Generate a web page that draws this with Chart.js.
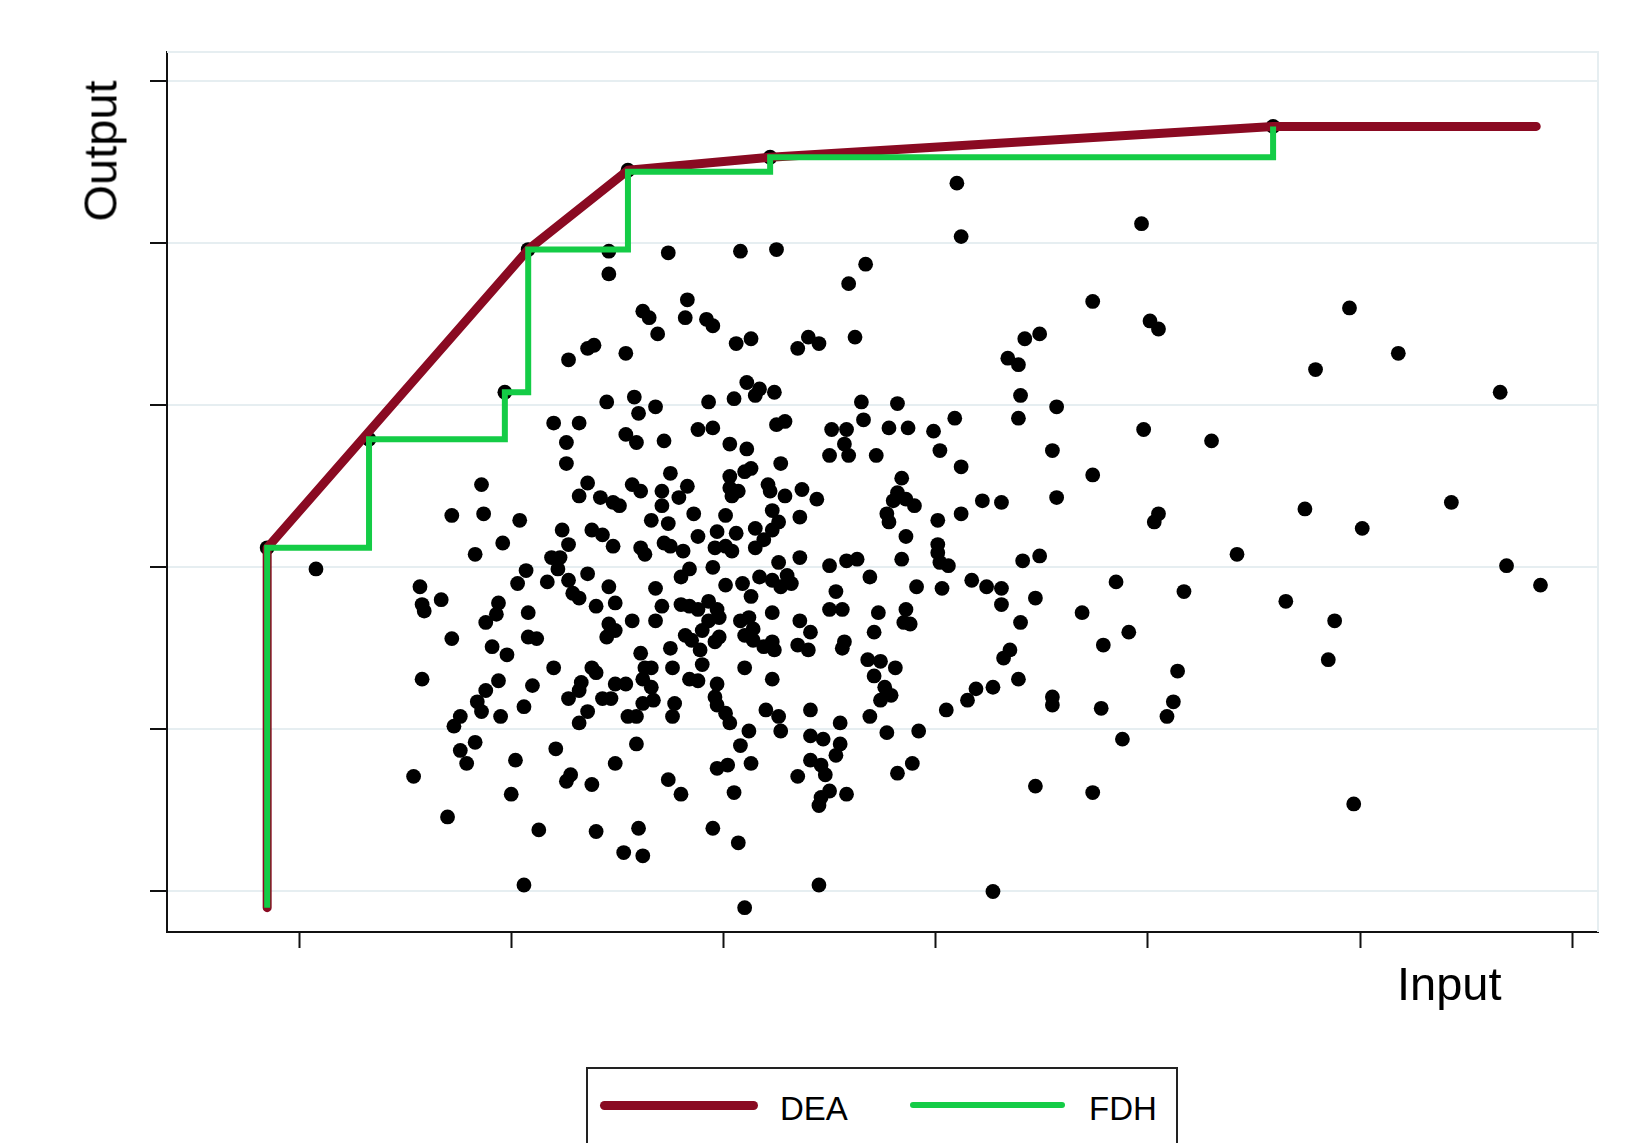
<!DOCTYPE html>
<html>
<head>
<meta charset="utf-8">
<script src="https://cdn.jsdelivr.net/npm/chart.js@4.4.1/dist/chart.umd.min.js"></script>
<style>
html,body{margin:0;padding:0;background:#fff;overflow:hidden;width:1629px;height:1143px;}
#wrap{position:relative;width:1629px;height:1143px;overflow:hidden;}
canvas{position:absolute;left:0;top:0;}
.lbl{position:absolute;font-family:"Liberation Sans",Arial,sans-serif;color:#000;line-height:1;white-space:nowrap;}
#ylab{left:100px;top:151px;font-size:47px;transform:translate(-50%,-50%) rotate(-90deg);}
#xlab{left:1397px;top:960px;font-size:47px;}
#legend{position:absolute;left:586px;top:1067px;width:592px;height:140px;border:2px solid #222;box-sizing:border-box;background:#fff;}
.sw{position:absolute;}
.lt{position:absolute;font-family:"Liberation Sans",Arial,sans-serif;font-size:33px;line-height:1;color:#000;white-space:nowrap;}
</style>
</head>
<body>
<div id="wrap">
  <canvas id="c" width="1629" height="1143"></canvas>
  <div class="lbl" id="ylab">Output</div>
  <div class="lbl" id="xlab">Input</div>
  <div id="legend"></div>
</div>
<script>
// ---- data (axis units: input ticks 0..60, output ticks 0..50) ----
const xTickValues = [0, 10, 20, 30, 40, 50, 60];
const yTickValues = [0, 10, 20, 30, 40, 50];
const seriesLabels = ['DEA', 'FDH'];

const firmInput = [
  31.0,31.2,39.7,14.6,14.6,17.4,20.8,22.5,26.7,25.9,18.3,18.2,16.2,16.5,16.9,19.2,19.5,13.6,13.9,12.7,
  15.4,20.6,21.3,23.5,24.0,24.5,26.2,34.2,34.9,37.4,40.1,40.5,49.5,51.8,33.4,33.9,9.7,14.5,15.8,16.8,
  16.0,19.3,20.5,21.1,21.7,21.5,22.4,26.5,26.6,28.2,34.0,33.9,30.9,
  47.9,56.6,35.7,39.8,43.0,35.5,37.4,35.7,40.5,40.3,47.4,54.3,50.1,34.9,44.2,56.9,58.5,34.7,38.5,41.7,
  46.5,36.9,39.1,37.9,48.8,48.5,41.4,35.5,35.5,37.8,41.2,40.9,38.8,34.7,37.4,49.7,
  12.0,13.2,12.6,12.6,8.6,7.2,8.7,10.4,9.6,8.3,13.6,13.2,12.4,13.8,12.7,11.9,12.3,12.2,10.7,10.3,
  13.6,11.7,12.7,12.9,13.2,5.7,5.8,5.9,6.7,9.4,9.3,8.8,10.8,14.0,7.2,9.1,9.8,10.8,11.2,12.0,
  5.8,9.4,8.8,8.4,8.6,7.6,7.3,9.5,10.6,11.0,12.7,13.6,13.3,13.2,13.8,14.0,0.8,
  13.2,8.3,7.6,7.9,10.2,5.4,12.1,12.8,12.6,13.8,10.0,7.0,11.3,14.0,15.3,16.2,16.0,10.6,14.9,15.9,
  17.4,18.0,19.5,19.7,20.3,22.7,21.2,20.8,21.3,20.2,20.5,20.7,21.0,23.5,24.1,24.7,24.1,24.6,24.8,25.0,
  24.6,24.5,24.5,
  25.0,25.6,27.3,28.6,28.8,28.5,33.1,34.0,27.1,25.7,25.6,26.8,27.4,28.1,27.1,27.6,27.9,27.4,26.9,25.5,
  25.5,25.3,25.8,27.7,29.2,28.9,28.2,30.5,31.5,31.9,32.7,33.2,33.5,33.9,32.7,
  25.1,25.8,25.7,25.0,25.9,27.8,28.7,27.2,29.9,30.2,31.2,28.4,28.2,28.0,28.6,29.0,27.7,27.8,28.6,28.4,
  30.1,31.2,32.2,33.1,30.1,30.1,30.2,30.6,29.1,30.3,31.7,32.4,33.1,34.1,25.0,25.8,26.3,26.9,25.3,
  15.4,15.9,17.2,18.8,19.5,20.3,21.1,22.5,22.9,17.5,15.7,16.1,17.1,18.3,17.9,17.1,20.3,20.3,20.7,20.4,
  20.1,21.3,21.0,22.7,22.1,22.2,22.9,23.7,24.4,14.2,14.8,15.1,16.6,17.4,18.6,22.3,22.6,23.6,14.3,14.8,
  16.1,16.3,17.2,17.5,18.1,18.8,19.7,20.6,19.6,20.1,20.4,21.5,22.3,21.9,21.5,23.6,19.5,22.6,23.0,23.2,
  21.7,22.3,22.7,18.0,18.4,16.8,14.6,14.9,18.0,18.4,18.8,19.3,19.7,20.1,20.9,21.3,22.3,23.6,24.1,23.5,
  24.0,14.6,14.9,14.5,15.7,18.2,19.0,19.3,19.8,17.5,18.5,18.9,19.6,19.8,20.8,21.2,21.4,21.0,21.4,21.9,
  22.3,22.4,21.0,22.3,19.0,17.6,18.4,18.8,19.7,19.6,19.7,20.1,16.1,16.3,16.6,16.2,16.6,16.2,16.7,14.9,
  15.4,14.3,14.7,17.7,15.5,15.9,17.6,22.0,22.6,24.1,17.1,16.8,
  -1.5,3.3,10.8,15.5,22.2,45.9
];
const firmOutput = [
  43.7,40.4,41.2,39.5,38.1,39.4,39.5,39.6,38.7,37.5,36.5,35.4,35.8,35.4,34.4,35.3,34.9,33.5,33.7,32.8,
  33.2,33.8,34.1,33.5,34.2,33.8,34.2,34.1,34.4,36.4,35.2,34.7,36.0,33.2,32.9,32.5,30.8,30.2,30.5,29.9,
  29.5,30.2,30.4,31.4,31.0,30.6,30.8,30.2,29.1,30.1,30.6,29.2,29.2,
  32.2,30.8,29.9,28.5,27.8,27.2,25.7,24.3,23.3,22.8,23.6,24.0,22.4,20.7,20.8,20.1,18.9,18.1,19.1,18.5,
  17.9,17.2,16.0,15.2,16.7,14.3,13.6,12.0,11.5,11.3,11.7,10.8,9.4,6.5,6.1,5.4,
  28.9,28.9,27.7,26.4,25.1,23.2,23.3,22.9,21.5,20.8,25.2,24.4,22.3,22.3,21.4,20.6,20.6,19.9,19.8,19.0,
  19.6,19.1,19.2,18.4,18.1,18.8,17.7,17.3,18.0,17.8,17.1,16.6,17.2,17.6,15.6,15.1,14.6,15.7,15.6,13.8,
  13.1,13.0,12.4,11.7,11.1,10.8,10.2,10.8,11.4,12.7,11.9,11.1,12.9,12.4,13.8,13.5,19.9,
  10.4,9.2,8.7,7.9,8.1,7.1,8.8,7.2,6.8,6.6,6.0,4.6,3.8,3.7,2.4,2.2,3.9,0.4,7.9,9.1,
  6.9,6.0,3.9,7.6,10.4,9.9,9.9,9.0,7.9,7.8,6.1,3.0,-1.0,7.1,9.6,9.4,8.1,7.8,7.2,6.2,
  5.8,5.3,0.4,
  17.4,17.4,17.2,17.4,16.5,16.6,17.7,16.6,16.0,15.4,15.0,14.3,14.2,13.8,13.3,12.6,12.1,11.8,10.8,10.4,
  9.1,8.4,6.0,9.8,9.9,7.9,7.3,11.2,11.8,12.5,12.6,14.4,14.9,13.1,0.0,
  28.5,28.5,27.6,26.9,26.9,28.6,28.6,26.9,28.4,27.2,26.2,25.5,24.6,24.1,24.2,23.8,23.3,22.8,21.9,20.5,
  22.9,23.3,24.1,24.0,21.4,20.9,20.3,20.1,18.8,18.7,19.2,18.8,18.7,20.4,20.1,20.4,20.5,19.4,18.5,
  28.2,27.7,27.8,28.5,28.6,27.6,27.3,28.8,29.0,25.8,25.1,24.7,24.7,25.0,24.3,23.8,25.6,24.9,24.7,24.4,
  23.2,26.1,25.9,26.4,25.1,24.7,24.4,24.8,24.2,24.3,24.0,23.8,22.9,22.7,23.3,23.5,22.8,23.1,22.0,21.3,
  21.2,20.8,21.5,21.3,21.0,21.9,22.2,22.1,21.2,21.3,21.0,22.4,22.3,21.7,21.2,20.6,20.0,20.3,19.5,19.0,
  19.4,19.2,18.8,19.4,19.9,18.7,18.8,17.8,17.7,17.6,17.4,17.9,17.4,18.9,19.0,18.2,17.2,16.7,16.0,15.2,
  14.9,16.5,16.1,15.7,16.7,15.8,16.1,16.7,16.9,15.0,15.5,14.9,15.4,15.7,16.7,16.9,16.2,15.8,15.5,15.1,
  15.4,14.9,13.8,13.1,14.0,13.8,13.1,13.0,12.8,12.0,11.5,11.0,14.7,13.8,13.8,13.1,12.6,11.6,11.8,12.8,
  12.8,11.9,11.9,11.6,10.8,10.8,10.8,11.2,10.8,11.2,17.6,16.7,
  21.2,27.9,39.6,44.5,45.3,47.2
];

const deaInput  = [-1.5, -1.5, 10.8, 15.5, 22.2, 45.9, 58.3];
const deaOutput = [-1.0, 21.2, 39.6, 44.5, 45.3, 47.2, 47.2];

const fdhInput  = [-1.5, -1.5, 3.3, 3.3, 9.7, 9.7, 10.8, 10.8, 15.5, 15.5, 22.2, 22.2, 45.9, 45.9];
const fdhOutput = [-1.0, 21.2, 21.2, 27.9, 27.9, 30.8, 30.8, 39.6, 39.6, 44.4, 44.4, 45.3, 45.3, 47.2];

// ---- styling ----
const seriesStyle = [
  { color: '#8a0a22', width: 9, cap: 'round', join: 'round' },
  { color: '#14cc46', width: 6, cap: 'butt', join: 'miter' }
];
const legendLayout = [
  { swLeft: 12, swTop: 32, swW: 158, swH: 9, txtLeft: 192, txtTop: 23 },
  { swLeft: 322, swTop: 33, swW: 155, swH: 6, txtLeft: 501, txtTop: 23 }
];

const toPoints = (xs, ys) => xs.map((x, i) => ({ x: x, y: ys[i] }));

const framePlugin = {
  id: 'lightFrame',
  beforeDatasetsDraw(chart) {
    const { ctx, chartArea } = chart;
    ctx.save();
    ctx.strokeStyle = '#e6eef1';
    ctx.lineWidth = 2;
    ctx.beginPath();
    ctx.moveTo(chartArea.left, chartArea.top);
    ctx.lineTo(chartArea.right, chartArea.top);
    ctx.lineTo(chartArea.right, chartArea.bottom);
    ctx.stroke();
    ctx.restore();
  }
};

const chart = new Chart(document.getElementById('c'), {
  type: 'scatter',
  data: {
    datasets: [
      {
        label: 'Units',
        data: toPoints(firmInput, firmOutput),
        backgroundColor: '#000',
        borderWidth: 0,
        pointRadius: 7.4,
        pointHoverRadius: 7.4,
        order: 3
      },
      {
        label: seriesLabels[0],
        data: toPoints(deaInput, deaOutput),
        showLine: true,
        borderColor: seriesStyle[0].color,
        backgroundColor: seriesStyle[0].color,
        borderWidth: seriesStyle[0].width,
        borderCapStyle: seriesStyle[0].cap,
        borderJoinStyle: seriesStyle[0].join,
        pointRadius: 0,
        pointHoverRadius: 0,
        tension: 0,
        fill: false,
        order: 2
      },
      {
        label: seriesLabels[1],
        data: toPoints(fdhInput, fdhOutput),
        showLine: true,
        borderColor: seriesStyle[1].color,
        backgroundColor: seriesStyle[1].color,
        borderWidth: seriesStyle[1].width,
        borderCapStyle: seriesStyle[1].cap,
        borderJoinStyle: seriesStyle[1].join,
        pointRadius: 0,
        pointHoverRadius: 0,
        tension: 0,
        fill: false,
        order: 1
      }
    ]
  },
  options: {
    responsive: false,
    animation: false,
    devicePixelRatio: 1,
    layout: { padding: { left: 150, right: 31, top: 52, bottom: 195 } },
    plugins: { legend: { display: false }, tooltip: { enabled: false } },
    scales: {
      x: {
        type: 'linear',
        min: -6.22,
        max: 61.21,
        afterBuildTicks: (axis) => { axis.ticks = xTickValues.map(v => ({ value: v })); },
        ticks: { display: false },
        grid: { drawOnChartArea: false, drawTicks: true, tickLength: 16, tickWidth: 2, tickColor: '#111' },
        border: { display: true, color: '#111', width: 2 }
      },
      y: {
        type: 'linear',
        min: -2.5,
        max: 51.79,
        afterBuildTicks: (axis) => { axis.ticks = yTickValues.map(v => ({ value: v })); },
        ticks: { display: false },
        grid: { color: '#e6eef1', lineWidth: 2, drawTicks: true, tickLength: 17, tickWidth: 2, tickColor: '#111' },
        border: { display: true, color: '#111', width: 2 }
      }
    }
  },
  plugins: [framePlugin]
});

// ---- legend built from the frontier datasets ----
const legendEl = document.getElementById('legend');
chart.data.datasets.slice(1).forEach((ds, i) => {
  const L = legendLayout[i];
  const sw = document.createElement('div');
  sw.className = 'sw';
  sw.style.left = L.swLeft + 'px';
  sw.style.top = L.swTop + 'px';
  sw.style.width = L.swW + 'px';
  sw.style.height = L.swH + 'px';
  sw.style.borderRadius = (L.swH / 2) + 'px';
  sw.style.background = ds.borderColor;
  legendEl.appendChild(sw);
  const t = document.createElement('div');
  t.className = 'lt';
  t.style.left = L.txtLeft + 'px';
  t.style.top = L.txtTop + 'px';
  t.textContent = ds.label;
  legendEl.appendChild(t);
});
</script>
</body>
</html>
